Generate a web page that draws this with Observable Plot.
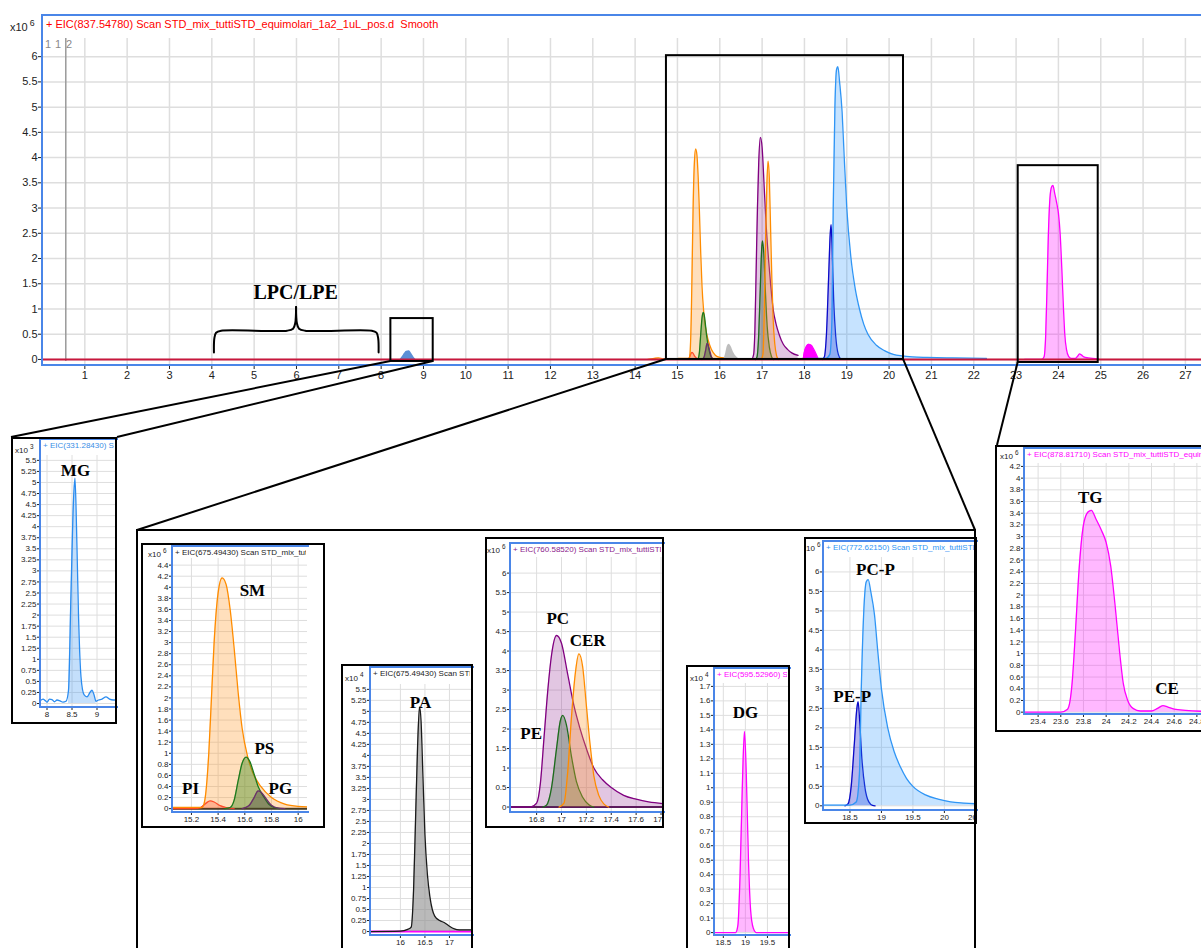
<!DOCTYPE html>
<html><head><meta charset="utf-8">
<script src="https://cdn.jsdelivr.net/npm/d3@7"></script>
<script src="https://cdn.jsdelivr.net/npm/@observablehq/plot@0.6"></script>
<style>
body{margin:0;background:#fff;}
#page{position:relative;width:1201px;height:948px;overflow:hidden;font-family:"Liberation Sans",Arial,sans-serif;background:#fff;}
.box{position:absolute;border:2px solid #000;box-sizing:border-box;pointer-events:none;}
.blue{position:absolute;border-left:2px solid #4a86e8;border-top:2px solid #4a86e8;border-bottom:2px solid #4a86e8;box-sizing:border-box;pointer-events:none;}
.ttl{position:absolute;white-space:nowrap;overflow:hidden;}
.exp{position:absolute;white-space:nowrap;color:#222;}
.exp sup{font-size:0.8em;margin-left:2px;}
</style></head><body><div id="page"></div><script>
// ================= DATA (x = retention time, min; y = intensity) =================
const mainXTicks = [1,2,3,4,5,6,7,8,9,10,11,12,13,14,15,16,17,18,19,20,21,22,23,24,25,26,27];
const mainYTicks = [0,0.5,1,1.5,2,2.5,3,3.5,4,4.5,5,5.5,6];

// peaks, x10^6
const piPts  = [[15.0,0],[15.22,0],[15.27,0.02],[15.31,0.1],[15.34,0.14],[15.37,0.12],[15.41,0.06],[15.46,0.02],[15.52,0]];
const smPts  = [[15.02,0.02],[15.28,0.02],[15.3,0.15],[15.33,1.0],[15.35,2.0],[15.37,3.0],[15.4,3.9],[15.43,4.17],[15.46,4.05],[15.49,3.6],[15.52,2.9],[15.55,2.1],[15.58,1.45],[15.62,0.95],[15.66,0.65],[15.72,0.4],[15.8,0.2],[15.9,0.08],[16.0,0.04],[16.1,0.03]];
const psPts  = [[15.45,0],[15.49,0.02],[15.52,0.15],[15.55,0.5],[15.58,0.82],[15.61,0.93],[15.64,0.84],[15.67,0.62],[15.7,0.4],[15.74,0.22],[15.78,0.08],[15.82,0.02],[15.86,0]];
const pgPts  = [[15.58,0],[15.63,0.05],[15.67,0.2],[15.7,0.32],[15.72,0.3],[15.76,0.18],[15.8,0.06],[15.85,0.01],[15.9,0]];
const pcPts  = [[16.59,0],[16.75,0],[16.8,0.1],[16.83,0.6],[16.86,1.8],[16.89,3.0],[16.92,3.9],[16.96,4.4],[17.0,4.2],[17.05,3.4],[17.1,2.6],[17.15,2.0],[17.2,1.5],[17.26,1.0],[17.33,0.7],[17.4,0.5],[17.5,0.3],[17.6,0.2],[17.7,0.13],[17.85,0.08]];
const pePts  = [[16.85,0],[16.88,0.05],[16.92,0.5],[16.96,1.5],[16.99,2.2],[17.01,2.35],[17.04,2.1],[17.08,1.3],[17.12,0.65],[17.17,0.25],[17.22,0.06],[17.26,0]];
const cerPts = [[16.98,0],[17.02,0.1],[17.05,0.9],[17.08,2.3],[17.11,3.4],[17.14,3.93],[17.17,3.6],[17.2,2.6],[17.23,1.6],[17.26,0.8],[17.3,0.3],[17.34,0.08],[17.38,0]];
const pepPts = [[18.42,0],[18.47,0.05],[18.52,0.5],[18.57,1.6],[18.61,2.5],[18.63,2.67],[18.65,2.3],[18.69,1.2],[18.74,0.45],[18.8,0.1],[18.86,0.01],[18.9,0]];
const pcpPts = [[18.05,0.02],[18.5,0.02],[18.6,0.1],[18.65,0.8],[18.68,3.0],[18.72,5.0],[18.76,5.75],[18.79,5.8],[18.83,5.5],[18.89,4.9],[18.94,4.0],[19.0,3.0],[19.1,2.0],[19.2,1.4],[19.3,1.0],[19.4,0.7],[19.5,0.5],[19.7,0.28],[19.9,0.17],[20.1,0.1],[20.3,0.07],[20.55,0.05],[20.9,0.04],[21.5,0.03],[22.3,0.02]];
const tgPts  = [[23.2,0],[23.6,0],[23.66,0.05],[23.7,0.5],[23.73,1.4],[23.76,2.4],[23.8,3.2],[23.84,3.42],[23.87,3.45],[23.91,3.3],[23.96,3.1],[24.0,2.9],[24.04,2.5],[24.08,1.8],[24.12,1.0],[24.15,0.5],[24.19,0.2],[24.24,0.06],[24.3,0.02],[24.4,0.02],[24.45,0.06],[24.5,0.11],[24.54,0.09],[24.6,0.05],[24.7,0.03],[24.95,0.01]];
// MG x10^3, PA x10^4, DG x10^4 (insets)
const mgPts  = [[7.85,0.05],[7.92,0.1],[7.97,0.06],[8.0,0.03],[8.05,0.1],[8.1,0.09],[8.15,0.04],[8.2,0.08],[8.26,0.06],[8.32,0.03],[8.38,0.05],[8.43,0.3],[8.48,2.5],[8.53,4.6],[8.56,5.1],[8.59,4.0],[8.63,2.0],[8.68,0.6],[8.74,0.2],[8.8,0.15],[8.86,0.25],[8.9,0.3],[8.94,0.2],[8.98,0.05],[9.03,0.08],[9.1,0.1],[9.18,0.15],[9.25,0.1],[9.33,0.08],[9.42,0.09]];
const paPts  = [[15.35,0],[16.0,0.01],[16.15,0.05],[16.22,0.1],[16.27,1.0],[16.31,2.6],[16.35,4.2],[16.39,5.1],[16.42,4.8],[16.46,3.5],[16.5,2.2],[16.55,1.3],[16.6,0.8],[16.65,0.5],[16.7,0.35],[16.8,0.25],[16.9,0.2],[17.0,0.12],[17.1,0.06],[17.2,0.04],[17.5,0.04]];
const dgPts  = [[18.25,0],[18.78,0],[18.83,0.05],[18.88,0.4],[18.93,1.0],[18.98,1.39],[19.02,1.1],[19.07,0.5],[19.12,0.15],[19.18,0.03],[19.25,0],[20.05,0]];
// small traces as they appear on the full chromatogram (x10^6)
const mgMainPts = [[8.45,0],[8.52,0.08],[8.6,0.16],[8.66,0.17],[8.72,0.12],[8.78,0.04],[8.82,0]];
const paMainPts = [[16.1,0],[16.14,0.12],[16.18,0.26],[16.22,0.3],[16.27,0.25],[16.32,0.15],[16.4,0.05],[16.48,0]];
const dgMainPts = [[17.97,0],[18.0,0.15],[18.05,0.26],[18.1,0.3],[18.16,0.28],[18.22,0.2],[18.28,0.1],[18.33,0]];
const orangeBumpPts = [[14.3,0],[14.45,0.02],[14.55,0.03],[14.7,0]];

// zoom boxes on the full chromatogram (data units)
const zoomBoxes = [
  {x1:8.23, x2:9.23, y1:-0.04, y2:0.81},
  {x1:14.74, x2:20.34, y1:0, y2:6.02},
  {x1:23.05, x2:24.94, y1:-0.06, y2:3.84}
];
const markerLabels = [{t:"1", x:0.13},{t:"1", x:0.37},{t:"2", x:0.63}];
const markerPos = [0.55];
const braceLeft  = [[4.05,0.14],[4.06,0.42],[4.1,0.53],[4.22,0.57],[5.78,0.57],[5.92,0.61],[5.97,0.72],[5.99,1.04]];
const braceRight = [[5.99,1.04],[6.01,0.72],[6.06,0.61],[6.2,0.57],[7.78,0.57],[7.89,0.53],[7.93,0.42],[7.94,0.14]];
const braceLabel = [{text:"LPC/LPE", x:5.98, y:1.33}];

// inset labels
const mgLabels  = [{text:"MG", x:8.57, y:5.27}];
const smLabels  = [{text:"SM", x:15.657, y:3.94},{text:"PS", x:15.747, y:1.08},{text:"PI", x:15.193, y:0.36},{text:"PG", x:15.867, y:0.37}];
const paLabels  = [{text:"PA", x:16.41, y:5.21}];
const pcLabels  = [{text:"PC", x:16.97, y:4.83},{text:"CER", x:17.21, y:4.26},{text:"PE", x:16.756, y:1.88}];
const dgLabels  = [{text:"DG", x:19.0, y:1.52}];
const pcpLabels = [{text:"PC-P", x:18.905, y:6.05},{text:"PE-P", x:18.535, y:2.8}];
const tgLabels  = [{text:"TG", x:23.86, y:3.66},{text:"CE", x:24.537, y:0.4}];

const mgXTicks  = [8, 8.5, 9];
const smXTicks  = [15.2, 15.4, 15.6, 15.8, 16];
const paXTicks  = [16, 16.5, 17];
const pcXTicks  = [16.8, 17, 17.2, 17.4, 17.6, 17.8];
const dgXTicks  = [18.5, 19, 19.5];
const pcpXTicks = [18.5, 19, 19.5, 20, 20.5];
const tgXTicks  = [23.4, 23.6, 23.8, 24, 24.2, 24.4, 24.6, 24.8];

// ================= STYLES =================
const ST = {
  pi:  {stroke:"#ff2a2a", fill:"#ff2a2a", fo:0.3},
  sm:  {stroke:"#ff8c00", fill:"#ff9a2e", fo:0.32},
  ps:  {stroke:"#1d7a1d", fill:"#3a8a1a", fo:0.4},
  pg:  {stroke:"#6b2f6b", fill:"#4a4040", fo:0.4},
  pa:  {stroke:"#1a1a1a", fill:"#8c8c8c", fo:0.6},
  pc:  {stroke:"#800080", fill:"#8b1a8b", fo:0.25},
  pe:  {stroke:"#1d6b1d", fill:"#3d6b3d", fo:0.35},
  cer: {stroke:"#ff8c00", fill:"#ff9a2e", fo:0.32},
  dg:  {stroke:"#ff00ff", fill:"#ff00ff", fo:0.28},
  pep: {stroke:"#0a0ac8", fill:"#2a2ad0", fo:0.35},
  pcp: {stroke:"#2f95f5", fill:"#3399ff", fo:0.28},
  tg:  {stroke:"#ff00ff", fill:"#ff00ff", fo:0.28},
  mg:  {stroke:"#2a8cf0", fill:"#2a8cf0", fo:0.28},
  mgMain: {fill:"#5b8fd6", fo:1},
  paMain: {fill:"#bdbdbd", fo:1},
  dgMain: {fill:"#ff00ff", fo:1, stroke:"#ff00ff"},
  tiny: {stroke:"#ff8c00", fill:"#ff8c00", fo:0.3}
};
const SANS = "Liberation Sans, Arial, sans-serif";
const SERIF = "Liberation Serif, Times New Roman, serif";
const fmt = d => String(+(+d).toFixed(2));
const steps = (a, b, s) => d3.range(0, Math.round((b - a) / s) + 1).map(i => +(a + i * s).toFixed(2));

function peak(pts, st, range) {
  const X = d => d[0], Y = d => d[1];
  const m = [];
  if (st.fill) {
    const ap = range ? pts.filter(d => d[0] >= range[0] && d[0] <= range[1]) : pts;
    m.push(Plot.areaY(ap, {x: X, y: Y, fill: st.fill, fillOpacity: st.fo, curve: "monotone-x", clip: true}));
  }
  if (st.stroke) m.push(Plot.lineY(pts, {x: X, y: Y, stroke: st.stroke, strokeWidth: st.sw || 1.3, curve: "monotone-x", clip: true}));
  return m;
}

const page = document.getElementById("page");
function put(el, l, t) { el.style.position = "absolute"; el.style.left = l + "px"; el.style.top = t + "px"; page.appendChild(el); return el; }
function div(cls, l, t, w, h, html, css) {
  const d = document.createElement("div"); d.className = cls;
  d.style.left = l + "px"; d.style.top = t + "px";
  if (w != null) d.style.width = w + "px"; if (h != null) d.style.height = h + "px";
  if (html) d.innerHTML = html; if (css) Object.assign(d.style, css);
  page.appendChild(d); return d;
}

// ================= MAIN CHROMATOGRAM =================
const mainPlot = Plot.plot({
  width: 1201, height: 390,
  marginLeft: 42, marginRight: 0, marginTop: 38, marginBottom: 25,
  x: {domain: [0, 27.38]},
  y: {domain: [-0.12, 6.36]},
  style: {fontFamily: SANS, fontSize: "11px", background: "transparent", color: "#222"},
  marks: [
    Plot.gridX({ticks: mainXTicks, stroke: "#dedede", strokeOpacity: 1, strokeWidth: 1.5}),
    Plot.gridY({ticks: mainYTicks, stroke: "#dedede", strokeOpacity: 1, strokeWidth: 1.5}),
    Plot.ruleX(markerPos, {y1: -0.04, y2: 6.36, stroke: "#9a9a9a", strokeWidth: 1.5}),
    Plot.text(markerLabels, {x: "x", y: 6.24, text: "t", fill: "#8a8a8a", fontSize: 11}),
    ...peak(orangeBumpPts, ST.tiny),
    ...peak(mgMainPts, ST.mgMain),
    ...peak(piPts, ST.pi), ...peak(smPts, ST.sm), ...peak(psPts, ST.ps), ...peak(pgPts, ST.pg),
    ...peak(paMainPts, ST.paMain),
    ...peak(pcPts, ST.pc), ...peak(pePts, ST.pe), ...peak(cerPts, ST.cer),
    ...peak(dgMainPts, ST.dgMain),
    ...peak(pepPts, ST.pep), ...peak(pcpPts, ST.pcp),
    ...peak(tgPts, ST.tg),
    Plot.ruleY([0], {stroke: "#c8173c", strokeWidth: 2}),
    Plot.rect(zoomBoxes, {x1: "x1", x2: "x2", y1: "y1", y2: "y2", fill: "none", stroke: "#000", strokeWidth: 2}),
    Plot.line(braceLeft, {x: d => d[0], y: d => d[1], stroke: "#000", strokeWidth: 2, curve: "catmull-rom"}),
    Plot.line(braceRight, {x: d => d[0], y: d => d[1], stroke: "#000", strokeWidth: 2, curve: "catmull-rom"}),
    Plot.text(braceLabel, {x: "x", y: "y", text: "text", fontFamily: SERIF, fontWeight: "bold", fontSize: 20, fill: "#000"}),
    Plot.axisX({ticks: mainXTicks, tickSize: 4, tickPadding: 2, tickFormat: fmt, fontSize: 11, label: null}),
    Plot.axisY({ticks: mainYTicks, tickSize: 4, tickPadding: 1, tickFormat: fmt, fontSize: 11, label: null})
  ]
});
put(mainPlot, 0, 0);
div("blue", 41, 14, 1162, 352, null, {borderWidth: "2px"});
div("ttl", 46, 18, 1150, 14, "+ EIC(837.54780) Scan STD_mix_tuttiSTD_equimolari_1a2_1uL_pos.d&nbsp; Smooth", {color: "#ff0000", fontSize: "11px"});
div("exp", 10, 18, null, null, "x10<sup>6</sup>", {fontSize: "11px"});

// ================= INSETS =================
const insets = [
  {box:[11,437,117,724], area:[40,116,455,707], frameTop:438, xd:[7.87,9.39], yd:[-0.09,5.61], xt:mgXTicks, yt:steps(0,5.5,0.25),
   title:"+ EIC(331.28430) Scan STD_mix_tuttiSTD_equimolari_1a2_1uL_pos.d", tc:"#3a8ee6", exp:"x10<sup>3</sup>", expPos:[15,443],
   series:[[mgPts, ST.mg, [8.4, 9.0]]], labels: mgLabels, base: null},
  {box:[141,543,325,828], area:[172,307,558,812], frameTop:545, xd:[15.058,16.07], yd:[-0.07,4.52], xt:smXTicks, yt:steps(0,4.4,0.2),
   title:"+ EIC(675.49430) Scan STD_mix_tuttiSTD_equimolari_1a2_1uL_pos.d", tc:"#222", exp:"x10<sup>6</sup>", expPos:[148,547],
   series:[[piPts, ST.pi], [smPts, ST.sm], [psPts, ST.ps], [pgPts, ST.pg]], labels: smLabels, base: "#3a3320"},
  {box:[341,664,473,960], area:[370,472,684,935], frameTop:666, xd:[15.39,17.47], yd:[-0.09,5.61], xt:paXTicks, yt:steps(0,5.5,0.25),
   title:"+ EIC(675.49430) Scan STD_mix_tuttiSTD_equimolari_1a2_1uL_pos.d", tc:"#222", exp:"x10<sup>4</sup>", expPos:[345,671],
   series:[[paPts, ST.pa]], labels: paLabels, base: "#ff00ff"},
  {box:[485,537,664,828], area:[510,663,557,812], frameTop:542, xd:[16.59,17.82], yd:[-0.14,6.4], xt:pcXTicks, yt:steps(0,6,0.5),
   title:"+ EIC(760.58520) Scan STD_mix_tuttiSTD_equimolari_1a2_1uL_pos.d", tc:"#8b1a8b", exp:"x10<sup>6</sup>", expPos:[487,543],
   series:[[pcPts, ST.pc], [pePts, ST.pe], [cerPts, ST.cer]], labels: pcLabels, base: "#5a1a5a"},
  {box:[686,665,790,960], area:[714,789,683,935], frameTop:667, xd:[18.3,20.0], yd:[-0.02,1.72], xt:dgXTicks, yt:steps(0,1.7,0.1),
   title:"+ EIC(595.52960) Scan STD_mix_tuttiSTD_equimolari_1a2_1uL_pos.d", tc:"#ff00ff", exp:"x10<sup>4</sup>", expPos:[690,671],
   series:[[dgPts, ST.dg]], labels: dgLabels, base: null},
  {box:[804,537,977,824], area:[823,976,557,810], frameTop:540, xd:[18.08,20.51], yd:[-0.12,6.37], xt:pcpXTicks, yt:steps(0,6,0.5),
   title:"+ EIC(772.62150) Scan STD_mix_tuttiSTD_equimolari_1a2_1uL_pos.d", tc:"#2f95f5", exp:"10<sup>6</sup>", expPos:[806,541],
   series:[[pepPts, ST.pep], [pcpPts, ST.pcp]], labels: pcpLabels, base: null},
  {box:[995,445,1215,732], area:[1024,1210,463,714], frameTop:447, xd:[23.28,24.92], yd:[-0.04,4.25], xt:tgXTicks, yt:steps(0,4.2,0.2),
   title:"+ EIC(878.81710) Scan STD_mix_tuttiSTD_equimolari_1a2_1uL_pos.d", tc:"#ff00ff", exp:"x10<sup>6</sup>", expPos:[1000,449],
   series:[[tgPts, ST.tg]], labels: tgLabels, base: null}
];

for (const c of insets) {
  const [l, t, r, b] = c.box, [x0, x1, y0, y1] = c.area;
  const marks = [
    Plot.gridX({ticks: c.xt, stroke: "#dedede", strokeOpacity: 1, strokeWidth: 1}),
    Plot.gridY({ticks: c.yt, stroke: "#dedede", strokeOpacity: 1, strokeWidth: 1})
  ];
  if (c.base) marks.push(Plot.ruleY([0], {stroke: c.base, strokeWidth: 2}));
  for (const s of c.series) marks.push(...peak(s[0], s[1], s[2]));
  marks.push(
    Plot.text(c.labels, {x: "x", y: "y", text: "text", fontFamily: SERIF, fontWeight: "bold", fontSize: 17, fill: "#000"}),
    Plot.axisX({ticks: c.xt, tickSize: 3, tickPadding: 1, tickFormat: fmt, fontSize: 8, label: null}),
    Plot.axisY({ticks: c.yt, tickSize: 3, tickPadding: 1, tickFormat: fmt, fontSize: 8, label: null})
  );
  const p = Plot.plot({
    width: r - l, height: b - t,
    marginLeft: x0 - l, marginRight: r - x1, marginTop: y0 - t, marginBottom: b - y1,
    x: {domain: c.xd, label: null}, y: {domain: c.yd, label: null},
    style: {fontFamily: SANS, fontSize: "8px", background: "#fff", color: "#222", overflow: "hidden"},
    marks
  });
  put(p, l, t);
  div("blue", x0 - 1, c.frameTop, x1 - x0 + 3, y1 - c.frameTop + 1);
  div("ttl", x0 + 3, c.frameTop + 3, Math.min(r - 2, x1) - x0 - 4, 11, c.title, {color: c.tc, fontSize: "8px"});
  div("exp", c.expPos[0], c.expPos[1], null, null, c.exp, {fontSize: "8px"});
  div("box", l, t, r - l, b - t);
}

// big frame around the central zoom
const bigFrame = [137, 530, 975, 960];
div("box", bigFrame[0] - 1, bigFrame[1] - 1, bigFrame[2] - bigFrame[0] + 2, bigFrame[3] - bigFrame[1], null, {borderBottom: "none"});

// ================= CONNECTORS =================
const sx = mainPlot.scale("x"), sy = mainPlot.scale("y");
const mg = insets[0].box, tg = insets[6].box;
const connectors = [
  {a: [zoomBoxes[0].x1, zoomBoxes[0].y1], b: [mg[0], mg[1]]},
  {a: [zoomBoxes[0].x2, zoomBoxes[0].y1], b: [mg[2], mg[1]]},
  {a: [zoomBoxes[1].x1, zoomBoxes[1].y1], b: [bigFrame[0], bigFrame[1]]},
  {a: [zoomBoxes[1].x2, zoomBoxes[1].y1], b: [bigFrame[2], bigFrame[1]]},
  {a: [zoomBoxes[2].x1, zoomBoxes[2].y1], b: [tg[0] + 2, tg[1]]}
];
const ov = d3.create("svg").attr("width", 1201).attr("height", 948)
  .style("position", "absolute").style("left", "0px").style("top", "0px").style("pointer-events", "none");
ov.selectAll("line").data(connectors).join("line")
  .attr("x1", d => sx.apply(d.a[0])).attr("y1", d => sy.apply(d.a[1]))
  .attr("x2", d => d.b[0]).attr("y2", d => d.b[1])
  .attr("stroke", "#000").attr("stroke-width", 2);
page.appendChild(ov.node());
</script></body></html>
